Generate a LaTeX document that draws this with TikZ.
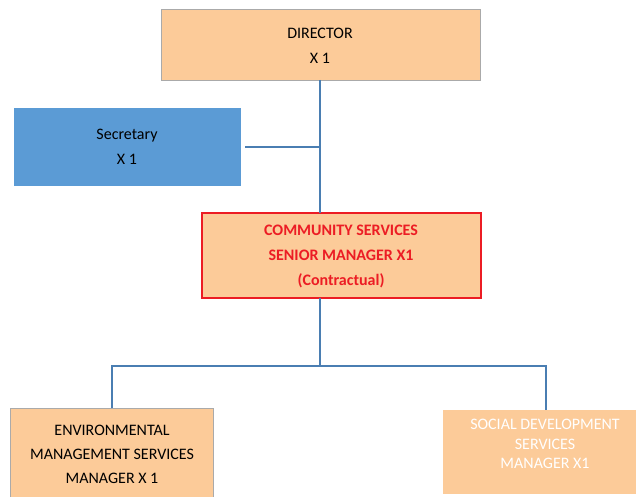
\documentclass[tikz,border=0pt]{standalone}
\usepackage{fontspec}
\setmainfont{Carlito}
\definecolor{peach}{RGB}{252,203,153}
\definecolor{secblue}{RGB}{91,155,213}
\definecolor{linkblue}{RGB}{74,126,178}
\definecolor{boxgray}{RGB}{170,170,170}
\definecolor{hired}{RGB}{236,28,36}
\tikzset{
  x=1pt, y=-1pt,
  box/.style={anchor=north west, inner sep=0pt, outer sep=0pt},
  lbl/.style={align=center, font=\fontsize{16}{25}\selectfont, inner sep=0pt},
  link/.style={draw=linkblue, line width=2.8pt}
}
\begin{document}
\begin{tikzpicture}
\useasboundingbox (0,0) rectangle (636,497);
% boxes
\node[box, fill=peach, draw=boxgray, line width=0.8pt, minimum width=319pt, minimum height=71pt] (dir) at (161,9) {};
\node[box, fill=secblue, minimum width=227pt, minimum height=78pt] (sec) at (14,108) {};
\node[box, fill=peach, draw=hired, line width=2.4pt, minimum width=279pt, minimum height=85pt] (csm) at (202,213) {};
\node[box, fill=peach, draw=boxgray, line width=0.8pt, minimum width=203pt, minimum height=100pt] (env) at (10,408) {};
\node[box, fill=peach, minimum width=193pt, minimum height=84pt] (soc) at (443,410) {};
% texts
\node[lbl] (dirt) at (320,45.5) {DIRECTOR\\X 1};
\node[lbl] (sect) at (127,146.5) {Secretary\\X 1};
\node[lbl, text=hired, font=\fontsize{16}{25}\selectfont\bfseries] (csmt) at (341,256) {COMMUNITY SERVICES\\SENIOR MANAGER X1\\(Contractual)};
\node[lbl, font=\fontsize{16}{24}\selectfont] (envt) at (112,454) {ENVIRONMENTAL\\MANAGEMENT SERVICES\\MANAGER X 1};
\node[lbl, text=white, font=\fontsize{16}{19.5}\selectfont] (soct) at (545,444) {SOCIAL DEVELOPMENT\\SERVICES\\MANAGER X1};
% connectors
\coordinate (j1) at (320,147);
\coordinate (j2) at (320,366);
\draw[link] (dir.south -| j1) -- (csm.north -| j1);
\draw[link] (sec.east) ++(4,0) coordinate (secend) -- (j1);
\draw[link] (csm.south -| j2) -- (j2);
\draw[link] (env.north -| 112,0) |- (j2) -| (soc.north -| 546,0);
\end{tikzpicture}
\end{document}
